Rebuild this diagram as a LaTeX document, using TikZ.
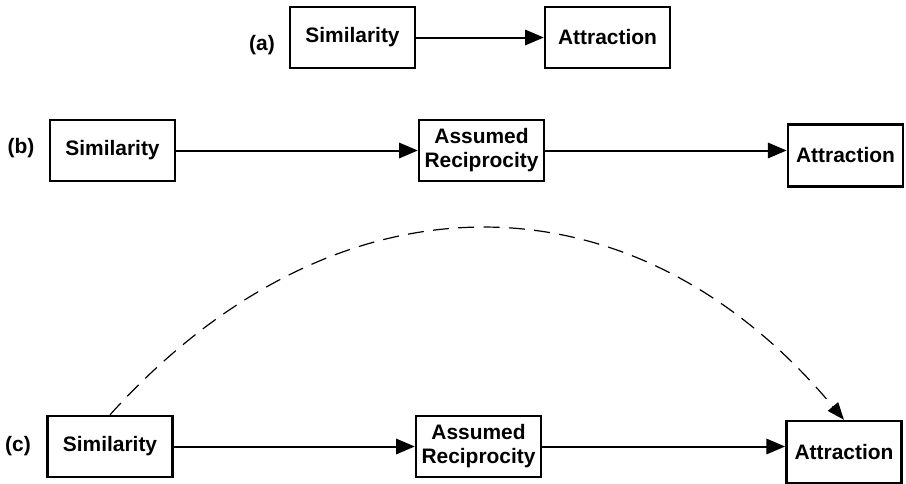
\documentclass[tikz,border=0pt]{standalone}
\usepackage{fontspec}
\setmainfont{Liberation Sans}
\usetikzlibrary{arrows.meta}
\tikzset{
    var box/.style={
        draw, line width=1.8pt, inner sep=2pt, align=center,
        minimum width=93.75pt, minimum height=45.75pt,
        font=\fontsize{15.7}{18}\selectfont\bfseries
    },
    out box/.style={var box, minimum width=86.5pt, minimum height=46.5pt},
    panel tag/.style={inner sep=0pt, font=\fontsize{15.7}{18}\selectfont\bfseries},
    link/.style={line width=1.5pt, -{Triangle[length=14pt, width=11.5pt]}},
    curved link/.style={line width=0.9pt, dash pattern=on 12pt off 7pt,
        -{Triangle[length=13pt, width=10pt]}}
}

\begin{document}
\begin{tikzpicture}[x=0.75pt, y=-0.75pt]

    \useasboundingbox (0,0) rectangle (906,483);

    % (a) direct effect
    \node [panel tag] (tagA) at (262,45) {(a)};
    \node [var box] (simA) at (352.5,37.5) {Similarity};
    \node [var box] (attA) at (607.5,37.5) {Attraction};
    \draw [link] (simA) -- (attA);

    % (b) through assumed reciprocity
    \node [panel tag] (tagB) at (21,148) {(b)};
    \node [var box] (simB) at (112.5,150.5) {Similarity};
    \node [var box] (recB) at (481.5,150.5) {Assumed\\Reciprocity};
    \node [out box] (attB) at (845.5,155.5) {Attraction};
    \draw [link] (simB) -- (recB);
    \draw [link] (recB) -- (recB -| attB.west);

    % (c) mediation plus direct path
    \node [panel tag] (tagC) at (18,446) {(c)};
    \node [var box] (simC) at (110,446.5) {Similarity};
    \node [var box] (recC) at (478.5,446.5) {Assumed\\Reciprocity};
    \node [out box] (attC) at (844,452) {Attraction};
    \draw [link] (simC) -- (recC);
    \draw [link] (recC) -- (recC -| attC.west);

    % direct path drawn as a dashed arc
    \draw [curved link] (simC.north) .. controls +(225,-249) and +(-212,-254) .. (attC.north);

\end{tikzpicture}
\end{document}
